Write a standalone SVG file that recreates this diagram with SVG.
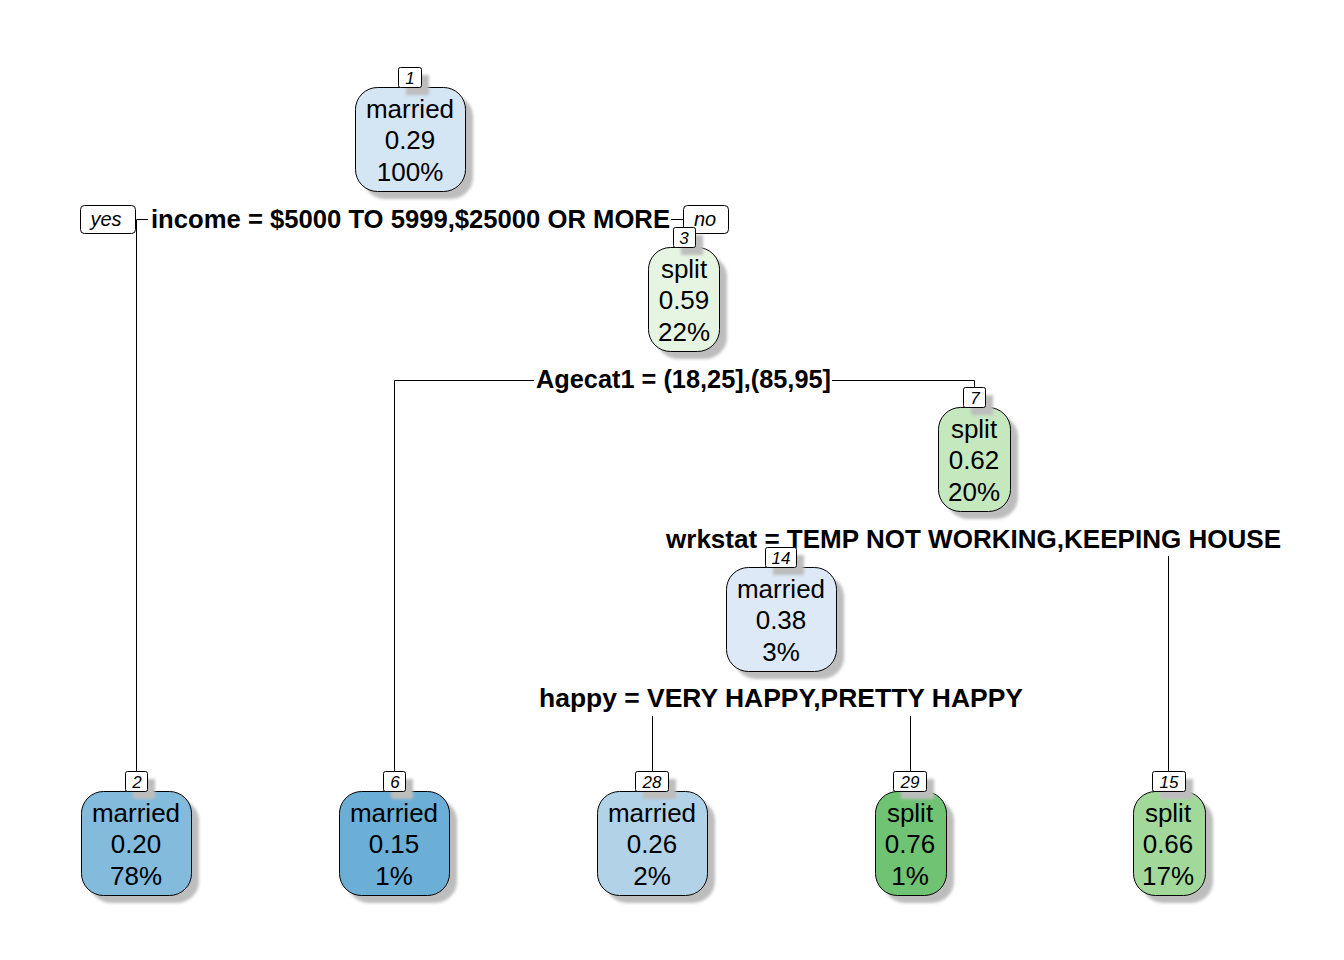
<svg xmlns="http://www.w3.org/2000/svg" width="1344" height="960" viewBox="0 0 1344 960">
<defs>
<filter id="blur" x="-20%" y="-20%" width="140%" height="140%"><feGaussianBlur stdDeviation="1.5"/></filter>
</defs>
<style>
.sh{fill:#BDBDBD;filter:url(#blur)}
.box{stroke:#000;stroke-width:1}
.lab{fill:#fff;stroke:#000;stroke-width:1}
.num{font-family:"Liberation Sans",Arial,sans-serif;font-size:17px;font-style:italic;text-anchor:middle;fill:#000}
.t{font-family:"Liberation Sans",Arial,sans-serif;font-size:26px;text-anchor:middle;fill:#000}
.sp{font-family:"Liberation Sans",Arial,sans-serif;font-size:25.5px;font-weight:bold;text-anchor:middle;fill:#000}
.spbg{fill:#fff}
.yn{font-family:"Liberation Sans",Arial,sans-serif;font-size:20px;font-style:italic;text-anchor:middle;fill:#000}
.ln{fill:none;stroke:#000;stroke-width:1}
</style>
<rect width="1344" height="960" fill="#fff"/>
<g id="connectors">
<path class="ln" d="M410 219.5H136.5V771"/>
<path class="ln" d="M410 219.5H683.5V227"/>
<path class="ln" d="M683 380.5H394.5V771"/>
<path class="ln" d="M683 380.5H974.5V387"/>
<path class="ln" d="M974 539.5H780.5V547"/>
<path class="ln" d="M974 539.5H1168.5V771"/>
<path class="ln" d="M780 698.5H652.5V771"/>
<path class="ln" d="M780 698.5H910.5V771"/>
</g>
<g id="split-labels">
<rect class="spbg" x="148" y="205" width="523" height="28"/>
<text class="sp" x="410.5" y="228" textLength="519" lengthAdjust="spacingAndGlyphs">income = $5000 TO 5999,$25000 OR MORE</text>
<rect class="spbg" x="534" y="365" width="298" height="30"/>
<text class="sp" x="683.5" y="388" textLength="295" lengthAdjust="spacingAndGlyphs">Agecat1 = (18,25],(85,95]</text>
<rect class="spbg" x="664" y="523" width="619" height="33"/>
<text class="sp" x="973.5" y="548" textLength="615" lengthAdjust="spacingAndGlyphs">wrkstat = TEMP NOT WORKING,KEEPING HOUSE</text>
<rect class="spbg" x="537" y="682" width="488" height="34"/>
<text class="sp" x="781" y="707" textLength="484" lengthAdjust="spacingAndGlyphs">happy = VERY HAPPY,PRETTY HAPPY</text>
</g>
<g id="yes">
<rect class="lab" x="80.5" y="205.5" width="55" height="28" rx="4"/>
<text class="yn" x="106" y="226">yes</text>
</g>
<g id="no">
<rect class="lab" x="683.5" y="205.5" width="45" height="28" rx="4"/>
<text class="yn" x="705" y="226">no</text>
</g>
<g id="node1">
<rect class="sh" x="363" y="95" width="110" height="104" rx="22"/>
<rect class="box" x="355.5" y="87.5" width="110" height="104" rx="22" fill="#D4E5F4"/>
<rect class="sh" x="406" y="75" width="23" height="20"/>
<rect class="lab" x="398.5" y="67.5" width="23" height="20" rx="2"/>
<text class="num" x="410" y="84">1</text>
<text class="t" x="410" y="118">married</text>
<text class="t" x="410" y="149">0.29</text>
<text class="t" x="410" y="181">100%</text>
</g>
<g id="node3">
<rect class="sh" x="656" y="255" width="71" height="104" rx="22"/>
<rect class="box" x="648.5" y="247.5" width="71" height="104" rx="22" fill="#E6F5E1"/>
<rect class="sh" x="681" y="235" width="22" height="20"/>
<rect class="lab" x="673.5" y="227.5" width="22" height="20" rx="2"/>
<text class="num" x="684" y="244">3</text>
<text class="t" x="684" y="278">split</text>
<text class="t" x="684" y="309">0.59</text>
<text class="t" x="684" y="341">22%</text>
</g>
<g id="node7">
<rect class="sh" x="946" y="415" width="72" height="104" rx="22"/>
<rect class="box" x="938.5" y="407.5" width="72" height="104" rx="22" fill="#C6E8BF"/>
<rect class="sh" x="971" y="395" width="22" height="20"/>
<rect class="lab" x="963.5" y="387.5" width="22" height="20" rx="2"/>
<text class="num" x="975" y="404">7</text>
<text class="t" x="974" y="438">split</text>
<text class="t" x="974" y="469">0.62</text>
<text class="t" x="974" y="501">20%</text>
</g>
<g id="node14">
<rect class="sh" x="734" y="575" width="110" height="104" rx="22"/>
<rect class="box" x="726.5" y="567.5" width="110" height="104" rx="22" fill="#DDE9F6"/>
<rect class="sh" x="773" y="555" width="31" height="20"/>
<rect class="lab" x="765.5" y="547.5" width="31" height="20" rx="2"/>
<text class="num" x="781" y="564">14</text>
<text class="t" x="781" y="598">married</text>
<text class="t" x="781" y="629">0.38</text>
<text class="t" x="781" y="661">3%</text>
</g>
<g id="node2">
<rect class="sh" x="89" y="799" width="110" height="104" rx="22"/>
<rect class="box" x="81.5" y="791.5" width="110" height="104" rx="22" fill="#82BBDC"/>
<rect class="sh" x="133" y="779" width="22" height="20"/>
<rect class="lab" x="125.5" y="771.5" width="22" height="20" rx="2"/>
<text class="num" x="137" y="788">2</text>
<text class="t" x="136" y="822">married</text>
<text class="t" x="136" y="853">0.20</text>
<text class="t" x="136" y="885">78%</text>
</g>
<g id="node6">
<rect class="sh" x="347" y="799" width="110" height="104" rx="22"/>
<rect class="box" x="339.5" y="791.5" width="110" height="104" rx="22" fill="#6BAED6"/>
<rect class="sh" x="391" y="779" width="22" height="20"/>
<rect class="lab" x="383.5" y="771.5" width="22" height="20" rx="2"/>
<text class="num" x="395" y="788">6</text>
<text class="t" x="394" y="822">married</text>
<text class="t" x="394" y="853">0.15</text>
<text class="t" x="394" y="885">1%</text>
</g>
<g id="node28">
<rect class="sh" x="605" y="799" width="110" height="104" rx="22"/>
<rect class="box" x="597.5" y="791.5" width="110" height="104" rx="22" fill="#B2D2E8"/>
<rect class="sh" x="643" y="779" width="33" height="20"/>
<rect class="lab" x="635.5" y="771.5" width="33" height="20" rx="2"/>
<text class="num" x="652" y="788">28</text>
<text class="t" x="652" y="822">married</text>
<text class="t" x="652" y="853">0.26</text>
<text class="t" x="652" y="885">2%</text>
</g>
<g id="node29">
<rect class="sh" x="883" y="799" width="71" height="104" rx="22"/>
<rect class="box" x="875.5" y="791.5" width="71" height="104" rx="22" fill="#70C373"/>
<rect class="sh" x="901" y="779" width="33" height="20"/>
<rect class="lab" x="893.5" y="771.5" width="33" height="20" rx="2"/>
<text class="num" x="910" y="788">29</text>
<text class="t" x="910" y="822">split</text>
<text class="t" x="910" y="853">0.76</text>
<text class="t" x="910" y="885">1%</text>
</g>
<g id="node15">
<rect class="sh" x="1141" y="799" width="72" height="104" rx="22"/>
<rect class="box" x="1133.5" y="791.5" width="72" height="104" rx="22" fill="#A2D99B"/>
<rect class="sh" x="1160" y="779" width="33" height="20"/>
<rect class="lab" x="1152.5" y="771.5" width="33" height="20" rx="2"/>
<text class="num" x="1169" y="788">15</text>
<text class="t" x="1168" y="822">split</text>
<text class="t" x="1168" y="853">0.66</text>
<text class="t" x="1168" y="885">17%</text>
</g>
</svg>
